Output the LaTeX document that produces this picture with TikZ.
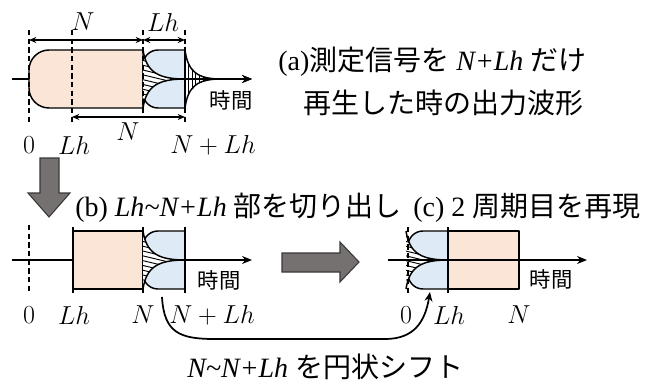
\RequirePackage{fix-cm}
\documentclass[tikz,border=0pt]{standalone}
\usepackage{fontspec}
\setmainfont{Liberation Serif}
\newfontfamily\jpfont{Noto Sans CJK JP}
\usetikzlibrary{arrows.meta}
\definecolor{peach}{HTML}{FBE5D6}
\definecolor{lblue}{HTML}{DEEBF7}
\definecolor{arrgray}{HTML}{767171}
\definecolor{arredge}{HTML}{3B3838}

% envelope curves: x0, x1, top, mid, bottom
\newcommand\envupper[4]{(#1,#3) .. controls ({#1+0.08*(#2-#1)},{#3+0.75*(#4-#3)}) and ({#1+0.35*(#2-#1)},#4) .. (#2,#4)}
\newcommand\envlower[4]{(#2,#4) .. controls ({#1+0.35*(#2-#1)},#4) and ({#1+0.08*(#2-#1)},{#3-0.75*(#3-#4)}) .. (#1,#3)}
\newcommand\envelope[5]{\envupper{#1}{#2}{#3}{#4} .. controls ({#1+0.35*(#2-#1)},#4) and ({#1+0.08*(#2-#1)},{#5-0.75*(#5-#4)}) .. (#1,#5) -- cycle}

\newcommand\slanthatch[5]{%
  \begin{scope}
    \fill[white] \envelope{#1}{#2}{#3}{#4}{#5};
    \clip \envelope{#1}{#2}{#3}{#4}{#5};
    \foreach \k in {0,...,20} {\draw[hatchline] ({#1-2},{#3-14+4.8*\k}) -- ({#2+2},{#3-14+4.8*\k+11});}
  \end{scope}
  \draw[outline] \envupper{#1}{#2}{#3}{#4};
  \draw[outline] \envlower{#1}{#2}{#5}{#4};}

\newcommand\verthatch[5]{%
  \begin{scope}
    \fill[white] \envelope{#1}{#2}{#3}{#4}{#5};
    \clip \envelope{#1}{#2}{#3}{#4}{#5};
    \foreach \k in {0,...,11} {\draw[hatchline] ({#1+3.6*\k},{#3-2}) -- ({#1+3.6*\k},{#5+2});}
  \end{scope}
  \draw[outline] \envupper{#1}{#2}{#3}{#4};
  \draw[outline] \envlower{#1}{#2}{#5}{#4};}

% blue block with rounded left corners: x0, x1, top, bottom
\newcommand\blueblock[4]{%
  \draw[outline,fill=lblue] (#2,#3) -- ({#1+15},#3) .. controls ({#1+6.7},#3) and (#1,{#3+6.7}) .. (#1,{#3+15})
    -- (#1,{#4-15}) .. controls (#1,{#4-6.7}) and ({#1+6.7},#4) .. ({#1+15},#4) -- (#2,#4) -- cycle;}

\tikzset{
  outline/.style={line width=1.1pt, line join=round},
  hatchline/.style={line width=0.7pt},
  dashline/.style={line width=1pt, dash pattern=on 4pt off 2.5pt},
  axis/.style={line width=1.1pt, -{Stealth[length=7.5pt,width=6pt]}},
  dim/.style={line width=1pt, {Stealth[length=5.5pt,width=4.5pt]}-{Stealth[length=5.5pt,width=4.5pt]}},
  bigarrow/.style={fill=arrgray, draw=arredge, line width=0.8pt},
  lbl/.style={inner sep=0pt, font=\fontsize{19.5}{23}\selectfont},
  ttl/.style={inner sep=0pt, anchor=west, font=\fontsize{21}{25}\selectfont},
  timelbl/.style={inner sep=0pt, font=\fontsize{16}{19}\selectfont\jpfont},
}

\begin{document}
\begin{tikzpicture}[x=0.75pt,y=-0.75pt]
\useasboundingbox (0,0) rectangle (656,390);

% ---------------- (a) ----------------
\coordinate (a0) at (12,79);
\coordinate (a1) at (252,79);
\draw[axis] (a0) -- (a1);
\draw[outline,fill=peach] (143,50) -- (49,50) .. controls (38,50) and (29,59) .. (29,70)
  -- (29,88) .. controls (29,99) and (38,108) .. (49,108) -- (143,108) -- cycle;
\blueblock{143}{185}{50}{108}
\slanthatch{143}{185}{50}{79}{108}
\verthatch{185}{221}{50}{79}{108}
\draw[outline] (185,50) -- (185,108);
\draw[axis] (185,79) -- (a1);
\draw[dashline] (29,30) -- (29,125);
\draw[dashline] (72,30) -- (72,125);
\draw[dashline] (143,30) -- (143,115);
\draw[dashline] (185,30) -- (185,125);
\coordinate (d0) at (29,40);
\coordinate (d1) at (143,40);
\coordinate (d2) at (185,40);
\coordinate (e0) at (72,117);
\coordinate (e1) at (185,117);
\draw[dim] (d0) -- (d1);
\draw[dim] (d1) -- (d2);
\draw[dim] (e0) -- (e1);
\node[lbl] (aN) at (83,22) {$N$};
\node[lbl] (aLh) at (163,22) {$Lh$};
\node[lbl] (aN2) at (128,132) {$N$};
\node[lbl] (a0l) at (29,145) {$0$};
\node[lbl] (aLhl) at (74,145) {$Lh$};
\node[lbl] (aNLh) at (213,145) {$N+Lh$};
\node[timelbl] (at) at (231,100) {時間};
\node[ttl] (atitle1) at (278,62) {(a){\jpfont 測定信号を} \textit{N+Lh} {\jpfont だけ}};
\node[ttl] (atitle2) at (303,103) {\jpfont 再生した時の出力波形};

% big arrows
\draw[bigarrow] (40,158) -- (59,158) -- (59,193) -- (70,193) -- (49,217) -- (28,193) -- (40,193) -- cycle;
\draw[bigarrow] (282,253) -- (340,253) -- (340,242) -- (359,262) -- (340,282) -- (340,272) -- (282,272) -- cycle;

% ---------------- (b) ----------------
\node[ttl] (btitle) at (75,208) {(b) \textit{Lh\textasciitilde N+Lh} {\jpfont 部を切り出し}};
\draw[axis] (12,260) -- (252,260);
\draw[dashline] (29,225) -- (29,293);
\draw[dashline] (73,227) -- (73,293);
\draw[dashline] (143,227) -- (143,293);
\draw[dashline] (185,227) -- (185,293);
\draw[outline,fill=peach] (73,231) rectangle (143,289);
\blueblock{143}{185}{231}{289}
\slanthatch{143}{185}{231}{260}{289}
\draw[outline] (185,231) -- (185,289);
\draw[outline] (73,231) -- (73,289);
\node[timelbl] (bt) at (219,280) {時間};
\node[lbl] (b0) at (29,315) {$0$};
\node[lbl] (bLh) at (74,315) {$Lh$};
\node[lbl] (bN) at (143,315) {$N$};
\node[lbl] (bNLh) at (212,315) {$N+Lh$};

% ---------------- (c) ----------------
\node[ttl] (ctitle) at (413,208) {(c) 2 {\jpfont 周期目を再現}};
\draw[dashline] (408,227) -- (408,293);
\draw[dashline] (448,227) -- (448,293);
\draw[outline,fill=peach] (448,231) rectangle (519,289);
\blueblock{408}{448}{231}{289}
\slanthatch{406}{448}{231}{260}{289}
\draw[dashline] (408,227) -- (408,293);
\draw[outline] (448,231) -- (448,289);
\draw[axis] (388,260) -- (587,260);
\node[timelbl] (ct) at (551,279) {時間};
\node[lbl] (c0) at (406,315) {$0$};
\node[lbl] (cLh) at (449,315) {$Lh$};
\node[lbl] (cN) at (519,315) {$N$};

% circular shift arrow
\coordinate (cs) at (162,297);
\coordinate (ce) at (430,292);
\draw[line width=1.3pt, -{Stealth[length=7pt,width=6pt]}] (cs) .. controls (164,333) and (180,339) .. (215,339) -- (385,339) .. controls (414,339) and (425,322) .. (ce);
\node[ttl] (shift) at (187,367) {\textit{N\textasciitilde N+Lh} {\jpfont を円状シフト}};
\end{tikzpicture}
\end{document}
